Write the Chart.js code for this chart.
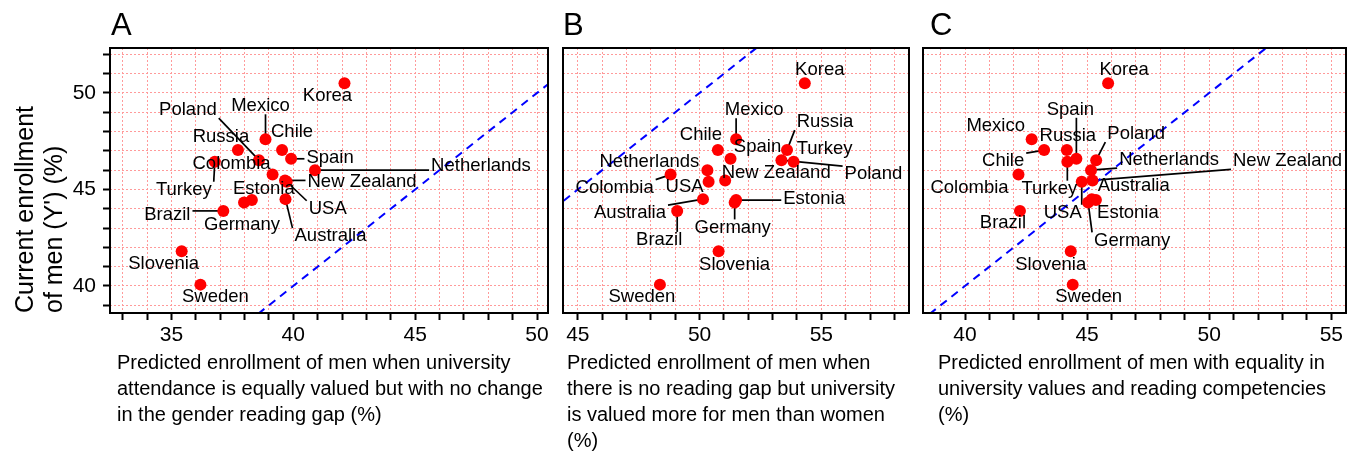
<!DOCTYPE html>
<html>
<head>
<meta charset="utf-8">
<script src="https://cdn.jsdelivr.net/npm/chart.js@4.4.0/dist/chart.umd.min.js"></script>
<style>
  body { margin: 0; background: #fff; }
  #wrap { position: relative; width: 1355px; height: 452px; overflow: hidden; }
  canvas { position: absolute; top: 0; }
</style>
</head>
<body>
<div id="wrap">
  <canvas id="panelA" width="560" height="452" style="left:0px"></canvas>
  <canvas id="panelB" width="360" height="452" style="left:555px"></canvas>
  <canvas id="panelC" width="440" height="452" style="left:915px"></canvas>
</div>
<script>
'use strict';

// data
const countries = ['Korea', 'Mexico', 'Chile', 'Russia', 'Spain', 'Poland', 'Turkey', 'Netherlands',
    'Colombia', 'New Zealand', 'USA', 'Estonia', 'Germany', 'Australia', 'Brazil', 'Slovenia', 'Sweden'];
const currentEnrollment = [50.5, 47.6, 47.04, 47.04, 46.59, 46.52, 46.44, 46.0,
    45.77, 45.47, 45.4, 44.45, 44.33, 44.5, 43.89, 41.8, 40.07];
const predictedA = [42.1, 38.86, 39.54, 37.73, 39.91, 38.59, 36.78, 40.89,
    39.15, 39.66, 39.73, 38.3, 37.98, 39.68, 37.13, 35.42, 36.19];
const predictedB = [54.32, 51.5, 50.75, 53.59, 51.27, 53.36, 53.86, 50.32,
    48.81, 51.05, 50.37, 51.5, 51.44, 50.14, 49.08, 50.78, 48.37];
const predictedC = [45.86, 42.73, 43.24, 44.17, 44.56, 45.37, 44.19, 45.16,
    42.19, 45.22, 44.78, 45.36, 45.04, 45.19, 42.25, 44.33, 44.41];

const identityLine = [30, 60];   // y = x reference
const yTickLabels = [40, 45, 50];
const xTickLabelsA = [35, 40, 45, 50];
const xTickLabelsB = [45, 50, 55];
const xTickLabelsC = [40, 45, 50, 55];

const yTitle = ['Current enrollment', "of men (Y') (%)"];
const xTitleA = ['Predicted enrollment of men when university',
    'attendance is equally valued but with no change',
    'in the gender reading gap (%)'];
const xTitleB = ['Predicted enrollment of men when',
    'there is no reading gap but university',
    'is valued more for men than women',
    '(%)'];
const xTitleC = ['Predicted enrollment of men with equality in',
    'university values and reading competencies',
    '(%)'];

// label placement (pixel offset from the point) and which labels get a leader line
const labelsA = {
    offsets: {
        'Korea': [-17, 13], 'Mexico': [-5, -33], 'Chile': [10, -18], 'Russia': [-17, -13],
        'Spain': [39, -1], 'Poland': [-71, -50], 'Turkey': [-31, 28], 'Netherlands': [166, -4],
        'Colombia': [-41, -11], 'New Zealand': [77, 2], 'USA': [41, 27], 'Estonia': [12, -11],
        'Germany': [-2, 22], 'Australia': [45, 37], 'Brazil': [-56, 4], 'Slovenia': [-18, 13],
        'Sweden': [15, 12]
    },
    leaders: ['Mexico', 'Spain', 'Poland', 'Turkey', 'Netherlands', 'New Zealand', 'USA', 'Australia', 'Brazil']
};
const labelsB = {
    offsets: {
        'Korea': [15, -13], 'Mexico': [18, -29], 'Chile': [-17, -15], 'Russia': [38, -28],
        'Spain': [27, -12], 'Poland': [92, 14], 'Turkey': [31, -13], 'Netherlands': [-58, -8],
        'Colombia': [-56, 13], 'New Zealand': [51, -7], 'USA': [-24, 5], 'Estonia': [78, -1],
        'Germany': [-2, 25], 'Australia': [-73, 14], 'Brazil': [-18, 29], 'Slovenia': [16, 14],
        'Sweden': [-18, 12]
    },
    leaders: ['Mexico', 'Russia', 'Poland', 'Colombia', 'Estonia', 'Germany', 'Australia', 'Brazil']
};
const labelsC = {
    offsets: {
        'Korea': [16, -13], 'Mexico': [-36, -13], 'Chile': [-41, 11], 'Russia': [1, -14],
        'Spain': [-6, -49], 'Poland': [40, -26], 'Turkey': [-18, 27], 'Netherlands': [78, -10],
        'Colombia': [-49, 13], 'New Zealand': [195, -19], 'USA': [-19, 31], 'Estonia': [32, 13],
        'Germany': [44, 38], 'Australia': [42, -13], 'Brazil': [-17, 12], 'Slovenia': [-20, 14],
        'Sweden': [16, 12]
    },
    leaders: ['Spain', 'Poland', 'Chile', 'Turkey', 'Netherlands', 'New Zealand', 'USA', 'Germany']
};

const FONT = '"Liberation Sans", Arial, Helvetica, sans-serif';
Chart.defaults.font.family = FONT;
Chart.defaults.color = '#000';

const isLabel = (list, v) => Math.abs(v - Math.round(v)) < 1e-6 && list.includes(Math.round(v));

// frame, panel letter, x title, point labels and leader lines
function panelPlugin(cfg) {
    return {
        id: 'panelDecor' + cfg.letter,
        beforeDatasetsDraw(chart) {
            const ctx = chart.ctx;
            const meta = chart.getDatasetMeta(0);
            ctx.save();
            ctx.font = '18.5px ' + FONT;
            ctx.strokeStyle = '#000';
            ctx.lineWidth = 1.7;
            meta.data.forEach((pt, i) => {
                const name = countries[i];
                if (!cfg.labels.leaders.includes(name)) return;
                const off = cfg.labels.offsets[name];
                const cx = pt.x + off[0], cy = pt.y + off[1];
                const hw = ctx.measureText(name).width / 2 + 2, hh = 8;
                const ex = Math.max(cx - hw, Math.min(pt.x, cx + hw));
                const ey = Math.max(cy - hh, Math.min(pt.y, cy + hh));
                ctx.beginPath();
                ctx.moveTo(ex, ey);
                ctx.lineTo(pt.x, pt.y);
                ctx.stroke();
            });
            ctx.restore();
        },
        afterDatasetsDraw(chart) {
            const ctx = chart.ctx;
            const meta = chart.getDatasetMeta(0);
            ctx.save();
            ctx.font = '18.5px ' + FONT;
            ctx.fillStyle = '#000';
            ctx.textAlign = 'center';
            ctx.textBaseline = 'middle';
            meta.data.forEach((pt, i) => {
                const name = countries[i];
                const off = cfg.labels.offsets[name];
                ctx.fillText(name, pt.x + off[0], pt.y + off[1]);
            });
            ctx.restore();
        },
        afterDraw(chart) {
            const {ctx, chartArea: a} = chart;
            ctx.save();
            ctx.strokeStyle = '#000';
            ctx.lineWidth = 2;
            ctx.strokeRect(a.left, a.top, a.right - a.left, a.bottom - a.top);

            ctx.fillStyle = '#000';
            ctx.font = '31px ' + FONT;
            ctx.textAlign = 'left';
            ctx.textBaseline = 'alphabetic';
            ctx.fillText(cfg.letter, a.left + cfg.letterIndent, 35);

            ctx.font = '20px ' + FONT;
            ctx.textBaseline = 'middle';
            cfg.xTitle.forEach((line, k) => {
                ctx.fillText(line, a.left + cfg.titleIndent, 363 + k * 26);
            });
            ctx.restore();
        }
    };
}

function makePanel(id, predicted, xMin, xMax, xLabels, cfg) {
    const points = predicted.map((x, i) => ({x: x, y: currentEnrollment[i]}));
    const gridStyle = {
        color: '#ff9a9a',
        lineWidth: 1,
        tickColor: '#000',
        tickWidth: 2,
        tickLength: 7,
        tickBorderDash: []
    };

    return new Chart(document.getElementById(id), {
        type: 'scatter',
        data: {
            datasets: [{
                data: points,
                backgroundColor: '#ff0000',
                borderWidth: 0,
                pointRadius: 6,
                pointHoverRadius: 6
            }, {
                type: 'line',
                data: identityLine.map(v => ({x: v, y: v})),
                borderColor: '#0000ff',
                borderWidth: 2,
                borderDash: [8, 6],
                pointRadius: 0,
                fill: false
            }]
        },
        options: {
            responsive: false,
            animation: false,
            devicePixelRatio: 1,
            events: [],
            layout: {padding: {top: 48, left: cfg.padLeft, right: cfg.padRight, bottom: 0}},
            plugins: {legend: {display: false}, tooltip: {enabled: false}},
            scales: {
                x: {
                    type: 'linear',
                    position: 'bottom',
                    min: xMin,
                    max: xMax,
                    ticks: {
                        stepSize: 1,
                        maxTicksLimit: 100,
                        autoSkip: false,
                        includeBounds: false,
                        maxRotation: 0,
                        padding: 3,
                        font: {size: 21},
                        color: '#000',
                        callback: v => isLabel(xLabels, v) ? String(Math.round(v)) : ''
                    },
                    grid: gridStyle,
                    border: {display: false, dash: [2, 2]},
                    afterFit: s => { s.height = 139; }
                },
                y: {
                    type: 'linear',
                    min: 38.6,
                    max: 52.33,
                    ticks: {
                        display: cfg.showY,
                        stepSize: 1,
                        maxTicksLimit: 100,
                        autoSkip: false,
                        includeBounds: false,
                        padding: 7,
                        font: {size: 21},
                        color: '#000',
                        callback: v => isLabel(yTickLabels, v) ? String(Math.round(v)) : ''
                    },
                    grid: Object.assign({}, gridStyle, {drawTicks: cfg.showY}),
                    border: {display: false, dash: [2, 2]},
                    title: {
                        display: cfg.showY,
                        text: yTitle,
                        align: 'start',
                        color: '#000',
                        font: {size: 25, lineHeight: 1.15},
                        padding: {top: 12, bottom: 0}
                    },
                    afterFit: s => { s.width = cfg.showY ? 110 : 0; }
                }
            }
        },
        plugins: [panelPlugin(cfg)]
    });
}

makePanel('panelA', predictedA, 32.48, 50.45, xTickLabelsA, {
    letter: 'A', letterIndent: 1, titleIndent: 7, padLeft: 0, padRight: 12,
    showY: true, xTitle: xTitleA, labels: labelsA
});
makePanel('panelB', predictedB, 44.39, 58.6, xTickLabelsB, {
    letter: 'B', letterIndent: 0, titleIndent: 4, padLeft: 8, padRight: 5,
    showY: false, xTitle: xTitleB, labels: labelsB
});
makePanel('panelC', predictedC, 38.28, 55.6, xTickLabelsC, {
    letter: 'C', letterIndent: 7, titleIndent: 15, padLeft: 8, padRight: 9,
    showY: false, xTitle: xTitleC, labels: labelsC
});
</script>
</body>
</html>
